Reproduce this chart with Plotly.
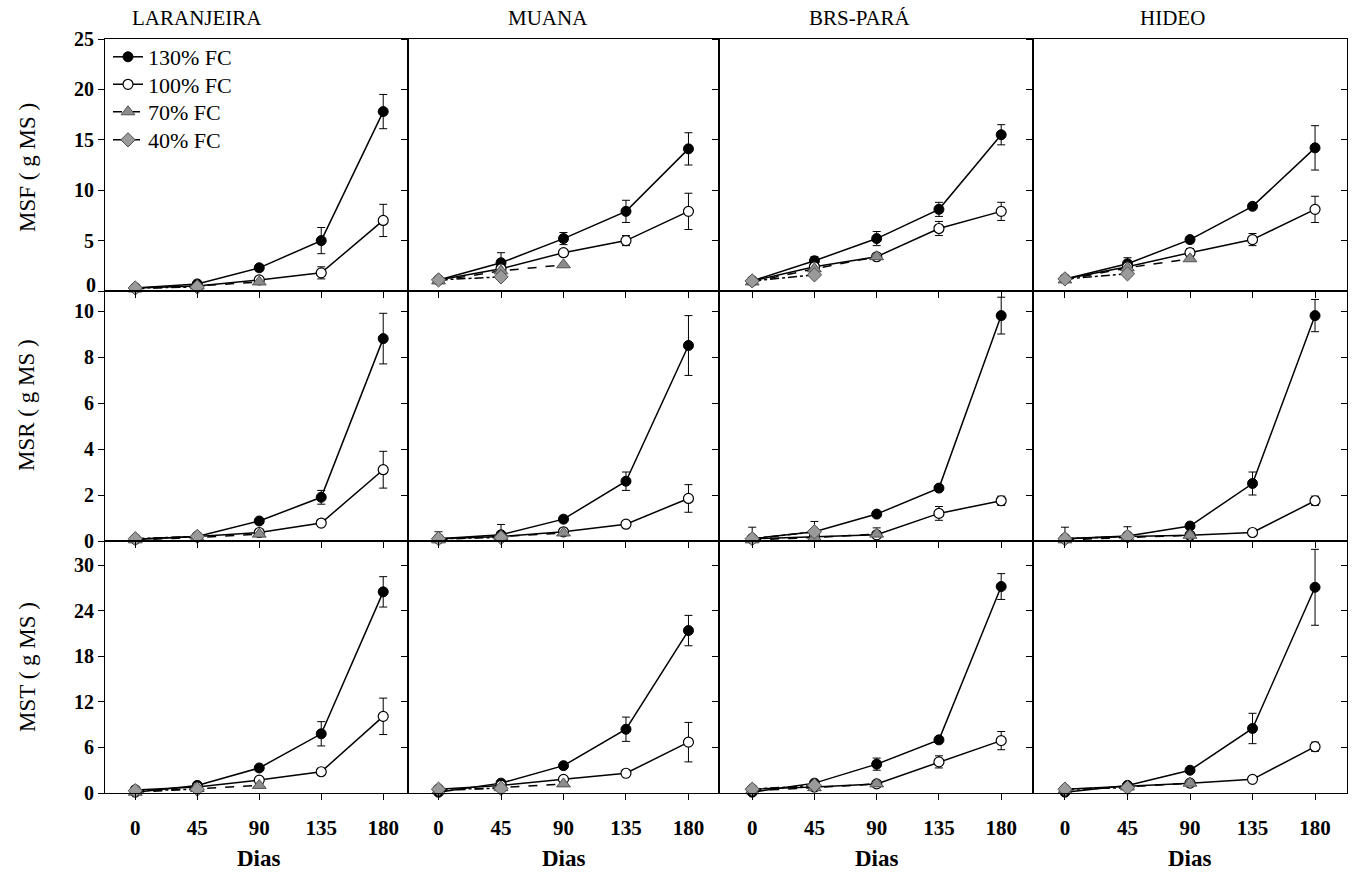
import plotly.graph_objects as go

W, H = 1359, 876
SERIF = "Liberation Serif"

days = [0, 45, 90, 135, 180]
days_70 = [0, 45, 90]
days_40 = [0, 45]
cultivars = ["LARANJEIRA", "MUANA", "BRS-PARÁ", "HIDEO"]
row_titles = ["MSF ( g MS )", "MSR ( g MS )", "MST ( g MS )"]
series_names = ["130% FC", "100% FC", "70% FC", "40% FC"]

# ---- MSF (one inner list per cultivar) ----
msf_130 = [[0.3, 0.7, 2.3, 5.0, 17.8], [1.1, 2.8, 5.2, 7.9, 14.1],
           [1.0, 3.0, 5.2, 8.1, 15.5], [1.2, 2.7, 5.1, 8.4, 14.2]]
msf_130_err = [[0, 0.2, 0.3, 1.3, 1.7], [0, 1.0, 0.6, 1.1, 1.6],
               [0, 0.4, 0.7, 0.7, 1.0], [0, 0.6, 0.3, 0, 2.2]]
msf_100 = [[0.3, 0.5, 1.1, 1.8, 7.0], [1.1, 2.2, 3.8, 5.0, 7.9],
           [1.0, 2.4, 3.4, 6.2, 7.9], [1.2, 2.4, 3.8, 5.1, 8.1]]
msf_100_err = [[0, 0, 0.2, 0.6, 1.6], [0, 0, 0, 0.5, 1.8],
               [0, 0, 0, 0.7, 0.9], [0, 0, 0.4, 0.6, 1.3]]
msf_70 = [[0.2, 0.5, 0.9], [1.0, 2.0, 2.6], [0.9, 2.2, 3.4], [1.1, 2.3, 3.2]]
msf_40 = [[0.3, 0.4], [1.1, 1.4], [1.0, 1.6], [1.2, 1.7]]

# ---- MSR ----
msr_130 = [[0.08, 0.2, 0.87, 1.9, 8.8], [0.1, 0.27, 0.95, 2.6, 8.5],
           [0.1, 0.4, 1.17, 2.3, 9.8], [0.1, 0.22, 0.65, 2.5, 9.8]]
msr_130_err = [[0, 0, 0, 0.3, 1.1], [0.3, 0.45, 0, 0.4, 1.3],
               [0.5, 0.45, 0, 0, 0.8], [0.5, 0.4, 0, 0.5, 0.7]]
msr_100 = [[0.08, 0.2, 0.37, 0.78, 3.1], [0.1, 0.2, 0.4, 0.73, 1.85],
           [0.1, 0.2, 0.27, 1.2, 1.75], [0.1, 0.2, 0.25, 0.37, 1.75]]
msr_100_err = [[0, 0, 0, 0, 0.8], [0, 0, 0, 0, 0.6],
               [0, 0, 0.3, 0.3, 0.2], [0, 0, 0, 0, 0.2]]
msr_70 = [[0.05, 0.15, 0.3], [0.05, 0.2, 0.35], [0.05, 0.15, 0.3], [0.05, 0.15, 0.25]]
msr_40 = [[0.1, 0.2], [0.1, 0.15], [0.1, 0.4], [0.1, 0.2]]

# ---- MST ----
mst_130 = [[0.1, 1.0, 3.3, 7.8, 26.5], [0.1, 1.3, 3.6, 8.4, 21.4],
           [0.1, 1.3, 3.8, 7.0, 27.2], [0.1, 1.0, 3.0, 8.5, 27.1]]
mst_130_err = [[0, 0, 0, 1.6, 2.0], [0, 0, 0, 1.6, 2.0],
               [0, 0, 0.8, 0, 1.7], [0, 0, 0, 2.0, 5.0]]
mst_100 = [[0.4, 0.8, 1.7, 2.8, 10.1], [0.5, 1.0, 1.8, 2.6, 6.7],
           [0.5, 0.8, 1.2, 4.1, 6.9], [0.5, 0.9, 1.3, 1.8, 6.1]]
mst_100_err = [[0, 0, 0, 0, 2.4], [0, 0, 0, 0, 2.6],
               [0, 0, 0, 0.8, 1.2], [0, 0, 0, 0, 0.6]]
mst_70 = [[0.1, 0.6, 1.0], [0.3, 0.7, 1.2], [0.3, 0.7, 1.2], [0.4, 0.8, 1.3]]
mst_40 = [[0.3, 0.5], [0.5, 0.6], [0.5, 1.0], [0.5, 0.7]]

rows_data = [
    (msf_130, msf_130_err, msf_100, msf_100_err, msf_70, msf_40),
    (msr_130, msr_130_err, msr_100, msr_100_err, msr_70, msr_40),
    (mst_130, mst_130_err, mst_100, mst_100_err, mst_70, mst_40),
]
y_ranges = [[0, 25], [0, 10.87], [0, 33.2]]
y_ticks = [[0, 5, 10, 15, 20, 25], [0, 2, 4, 6, 8, 10], [0, 6, 12, 18, 24, 30]]
# row 1's "0" is drawn as a separate label nudged up so it clears row 2's "10"
y_ticktext = [["", "5", "10", "15", "20", "25"],
              ["0", "2", "4", "6", "8", "10"],
              ["0", "6", "12", "18", "24", "30"]]
x_ranges = [[-22, 198], [-22, 202], [-24, 203], [-23, 203]]

# pixel layout
col_px = [(105, 408), (408, 719), (719, 1033), (1033, 1347)]
row_px = [(39, 291), (291, 541), (541, 793)]


def xd(a, b):
    return [a / W, b / W]


def yd(top, bot):
    return [1 - bot / H, 1 - top / H]


fig = go.Figure()
layout = dict(width=W, height=H, margin=dict(l=0, r=0, t=0, b=0, pad=0, autoexpand=False),
              paper_bgcolor="white", plot_bgcolor="white", showlegend=True)

err_style = dict(type="data", visible=True, color="black", thickness=1, width=4)
legend_ids = ["legend", "legend2", "legend3", "legend4"]
TICKFONT = dict(family=SERIF, size=20, color="black", weight="bold")

for r in range(3):
    s130, e130, s100, e100, s70, s40 = rows_data[r]
    for c in range(4):
        i = r * 4 + c + 1
        xa = "x" if i == 1 else f"x{i}"
        ya = "y" if i == 1 else f"y{i}"
        first = (i == 1)
        fig.add_trace(go.Scatter(
            x=days, y=s130[c], xaxis=xa, yaxis=ya, name=series_names[0],
            legend=legend_ids[0],
            mode="lines+markers", showlegend=first, cliponaxis=False,
            line=dict(color="black", width=1.5),
            marker=dict(symbol="circle", size=10, color="black",
                        line=dict(color="black", width=1)),
            error_y=dict(array=e130[c], **err_style)))
        fig.add_trace(go.Scatter(
            x=days, y=s100[c], xaxis=xa, yaxis=ya, name=series_names[1],
            legend=legend_ids[1],
            mode="lines+markers", showlegend=first, cliponaxis=False,
            line=dict(color="black", width=1.5),
            marker=dict(symbol="circle", size=10, color="white",
                        line=dict(color="black", width=1.2)),
            error_y=dict(array=e100[c], **err_style)))
        fig.add_trace(go.Scatter(
            x=days_70, y=s70[c], xaxis=xa, yaxis=ya, name=series_names[2],
            legend=legend_ids[2],
            mode="lines+markers", showlegend=first, cliponaxis=False,
            line=dict(color="black", width=1.5, dash="dash"),
            marker=dict(symbol="triangle-up", size=12, color="#8c8c8c",
                        line=dict(color="#505050", width=1))))
        fig.add_trace(go.Scatter(
            x=days_40, y=s40[c], xaxis=xa, yaxis=ya, name=series_names[3],
            legend=legend_ids[3],
            mode="lines+markers", showlegend=first, cliponaxis=False,
            line=dict(color="black", width=1.5, dash="dashdot"),
            marker=dict(symbol="diamond", size=11, color="#9a9a9a",
                        line=dict(color="#505050", width=1))))

        xkey = "xaxis" if i == 1 else f"xaxis{i}"
        ykey = "yaxis" if i == 1 else f"yaxis{i}"
        layout[xkey] = dict(
            domain=xd(*col_px[c]), range=x_ranges[c], anchor=ya,
            automargin=False,
            tickvals=days, ticks="outside", ticklen=6, tickcolor="black",
            showticklabels=(r == 2), ticklabelstandoff=10,
            tickfont=dict(family=SERIF, size=21, color="black", weight="bold"),
            showline=True, mirror=True, linecolor="black", linewidth=1,
            showgrid=False, zeroline=False)
        layout[ykey] = dict(
            domain=yd(*row_px[r]), range=y_ranges[r], anchor=xa,
            automargin=False,
            tickvals=y_ticks[r], ticktext=y_ticktext[r],
            ticks="outside", ticklen=6, tickcolor="black",
            showticklabels=(c == 0), tickfont=TICKFONT,
            showline=True, mirror=True, linecolor="black", linewidth=1,
            showgrid=False, zeroline=False)

# right-side inside ticks on the last column
for r in range(3):
    i = r * 4 + 4
    k = 12 + r + 1
    fig.add_trace(go.Scatter(x=[None], y=[None], xaxis=f"x{i}", yaxis=f"y{k}",
                             showlegend=False, hoverinfo="skip"))
    layout[f"yaxis{k}"] = dict(
        overlaying=f"y{i}", side="right", anchor=f"x{i}", range=y_ranges[r],
        automargin=False,
        tickvals=y_ticks[r], ticks="inside", ticklen=6, tickcolor="black",
        showticklabels=False, showline=False, showgrid=False, zeroline=False)

annotations = []
title_px = [197, 548, 860, 1172]
for c, name in enumerate(cultivars):
    annotations.append(dict(text=name, x=title_px[c] / W, y=1 - 18 / H,
                            xref="paper", yref="paper", showarrow=False,
                            xanchor="center", yanchor="middle",
                            font=dict(family=SERIF, size=21, color="black")))
    xi = f"x{8 + c + 1}"
    annotations.append(dict(text="Dias", x=90, y=1 - 858 / H,
                            xref=xi, yref="paper", showarrow=False,
                            xanchor="center", yanchor="middle",
                            font=dict(family=SERIF, size=23, color="black",
                                      weight="bold")))
row_title_px = [168, 405, 667]
for r, t in enumerate(row_titles):
    annotations.append(dict(text=t, x=27 / W, y=1 - row_title_px[r] / H,
                            xref="paper", yref="paper", showarrow=False,
                            textangle=-90, xanchor="center", yanchor="middle",
                            font=dict(family=SERIF, size=23, color="black")))
# row 1 zero label (raised a little)
annotations.append(dict(text=str(y_ticks[0][0]), x=97 / W, y=1 - 285 / H,
                        xref="paper", yref="paper", showarrow=False,
                        xanchor="right", yanchor="middle",
                        borderpad=0, font=TICKFONT))
layout["annotations"] = annotations

legend_tops = [36, 63.5, 91, 119]
for lid, top in zip(legend_ids, legend_tops):
    layout[lid] = dict(x=108 / W, y=1 - top / H, xanchor="left", yanchor="top",
                       bgcolor="rgba(0,0,0,0)", borderwidth=0,
                       tracegroupgap=0, itemwidth=30,
                       font=dict(family=SERIF, size=22, color="black"))

fig.update_layout(**layout)
fig.write_html("out.html")
